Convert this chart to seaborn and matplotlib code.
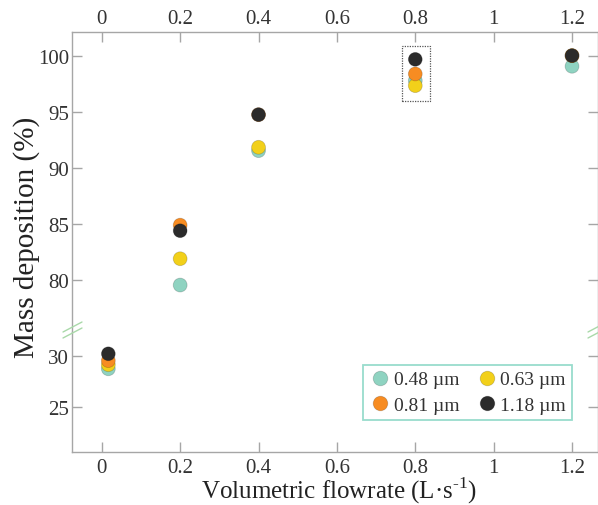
import numpy as np
import pandas as pd
import matplotlib
matplotlib.use("Agg")
import matplotlib.pyplot as plt
import seaborn as sns
from matplotlib.lines import Line2D
from matplotlib.patches import Rectangle

# ---- data ----
flowrate = [0.0167, 0.2, 0.4, 0.8, 1.2]
sizes = ["0.48 µm", "0.63 µm", "0.81 µm", "1.18 µm"]
dep_048 = [28.7, 79.55, 91.55, 97.8, 99.08]
dep_063 = [29.1, 81.9, 91.85, 97.35, 100.03]
dep_081 = [29.5, 84.9, 94.76, 98.4, 100.03]
dep_118 = [30.17, 84.4, 94.76, 99.7, 100.03]
colors = ["#8fd3c1", "#f2d01a", "#f78c22", "#2b2b2b"]
upper_ticks = [80, 85, 90, 95, 100]
lower_ticks = [25, 30]
x_ticks = [0, 0.2, 0.4, 0.6, 0.8, 1.0, 1.2]
x_ticklabels = ["0", "0.2", "0.4", "0.6", "0.8", "1", "1.2"]

rows = []
for name, vals in zip(sizes, [dep_048, dep_063, dep_081, dep_118]):
    for x, v in zip(flowrate, vals):
        rows.append({"flow": x, "dep": v, "size": name})
df = pd.DataFrame(rows)
palette = dict(zip(sizes, colors))

sns.set_style("white")
plt.rcParams["font.family"] = ["Liberation Serif", "DejaVu Serif"]
plt.rcParams["mathtext.fontset"] = "custom"
plt.rcParams["mathtext.rm"] = "Liberation Serif"

W, H = 598, 506
fig = plt.figure(figsize=(W / 100, H / 100), dpi=100)
L, R = 72 / W, 597.5 / W
y_top, y_brk, y_bot = 33, 333, 453
ax_u = fig.add_axes([L, 1 - y_brk / H, R - L, (y_brk - y_top) / H])
ax_l = fig.add_axes([L, 1 - y_bot / H, R - L, (y_bot - y_brk) / H])

spine_c = "#a6a6a6"
text_c = "#333333"
for ax in (ax_u, ax_l):
    sns.scatterplot(data=df, x="flow", y="dep", hue="size", palette=palette,
                    s=100, edgecolor=(0, 0, 0, 0.18), linewidth=0.6,
                    legend=False, ax=ax, zorder=3)
    ax.set_xlim(-0.076, 1.265)
    ax.set_xticks(x_ticks)
    ax.set_xticklabels(x_ticklabels)
    ax.set_xlabel("")
    ax.set_ylabel("")
    for s in ax.spines.values():
        s.set_color(spine_c)
        s.set_linewidth(1.0)
    ax.tick_params(direction="in", length=7, width=1.0, color=spine_c,
                   labelsize=15, labelcolor=text_c, right=True, left=True)
    ax.tick_params(axis="y", pad=2)

ax_u.set_ylim(75.36, 102.14)
ax_u.set_yticks(upper_ticks)
ax_u.spines["bottom"].set_visible(False)
ax_u.tick_params(axis="x", top=True, bottom=False, labeltop=True,
                 labelbottom=False, pad=3)

ax_l.set_ylim(20.56, 32.3)
ax_l.set_yticks(lower_ticks)
ax_l.spines["top"].set_visible(False)
ax_l.tick_params(axis="x", top=False, bottom=True, labelbottom=True, pad=4)

# dotted box around 0.8 L/s points
ax_u.add_patch(Rectangle((0.766, 95.96), 0.072, 4.96, fill=False,
                         edgecolor="#555555", linestyle=(0, (1, 1)),
                         linewidth=0.9, zorder=2))

# break marks
bc = "#a9d9a9"
for x0 in (63, 588):
    for dy in (0, 6):
        fig.add_artist(Line2D([x0 / W, (x0 + 19) / W],
                              [1 - (333 + dy) / H, 1 - (323 + dy) / H],
                              color=bc, lw=1.0))

# labels
fig.text(27 / W, 1 - 237 / H, "Mass deposition (%)", rotation=90,
         ha="center", va="center", fontsize=21, color="#222222")
fig.text(339 / W, 1 - 499 / H, "Volumetric flowrate (L·s$^{\\mathregular{\u2010}\\mathregular{1}}$)",
         ha="center", va="baseline", fontsize=18, color="#222222")

# legend
order = [0, 2, 1, 3]
handles = [Line2D([], [], marker="o", linestyle="", markersize=10.5,
                  markerfacecolor=colors[i], markeredgecolor=(0, 0, 0, 0.18),
                  markeredgewidth=0.6) for i in order]
labels = [sizes[i] for i in order]
leg = ax_l.legend(handles, labels, ncol=2, loc="upper right",
                  bbox_to_anchor=(572 / W, 1 - 366 / H),
                  bbox_transform=fig.transFigure, frameon=True,
                  fancybox=False, fontsize=14, handletextpad=0.1,
                  columnspacing=0.8, borderpad=0.3, labelspacing=0.4,
                  handlelength=1.2, borderaxespad=0)
leg.get_frame().set_edgecolor("#7fd3c0")
leg.get_frame().set_linewidth(1.3)
for t in leg.get_texts():
    t.set_color(text_c)

fig.savefig("out.png", dpi=100)
